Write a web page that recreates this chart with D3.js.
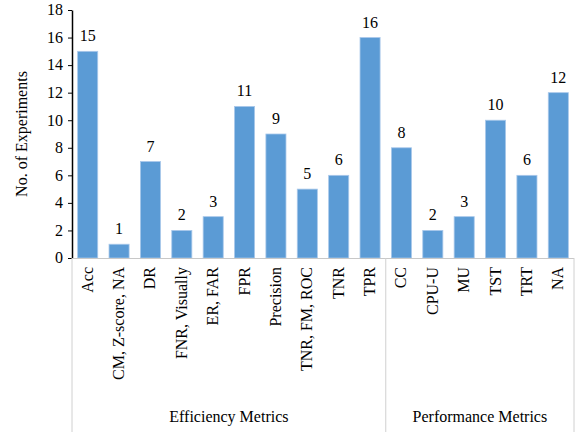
<!DOCTYPE html>
<html><head><meta charset="utf-8">
<script src="https://cdn.jsdelivr.net/npm/d3@7"></script>
</head><body>
<script>
const categories = ["Acc","CM, Z-score, NA","DR","FNR, Visually","ER, FAR","FPR","Precision","TNR, FM, ROC","TNR","TPR","CC","CPU-U","MU","TST","TRT","NA"];
const values = [15,1,7,2,3,11,9,5,6,16,8,2,3,10,6,12];
const groups = [{name:"Efficiency Metrics", start:0, end:9},{name:"Performance Metrics", start:10, end:15}];
const yTicks = [0,2,4,6,8,10,12,14,16,18];

document.body.style.margin="0";
const W=579,H=434;
const FONT='"Liberation Serif"';
const svg=d3.select("body").append("svg").attr("width",W).attr("height",H);
const x=d3.scaleBand().domain(categories).range([72,574]).paddingInner(0.36).paddingOuter(0.18);
const y=d3.scaleLinear().domain([0,18]).range([258,10]);

function txt(sel){ sel.style("font-family",FONT).attr("font-size",16); return sel; }

// bars
values.forEach((v,i)=>{
  svg.append("rect").attr("x",x(categories[i])).attr("y",y(v))
   .attr("width",x.bandwidth()).attr("height",y(0)-y(v))
   .attr("fill","#5b9bd5").attr("stroke","#a9c8ea").attr("stroke-width",0.8);
});

// y axis (drawn via d3 axis for lines)
const ya=svg.append("g").attr("transform","translate(72,0)")
 .call(d3.axisLeft(y).tickValues(yTicks).tickSize(4).tickSizeOuter(0).tickFormat(""));
ya.select(".domain").attr("stroke","#000").attr("stroke-width",1.5);
ya.selectAll(".tick line").attr("stroke","#000");
yTicks.forEach(t=>{
  txt(svg.append("text")).attr("x",63).attr("y",y(t)).attr("dy","0.33em").attr("text-anchor","end").text(t);
});

// value labels
values.forEach((v,i)=>{
  txt(svg.append("text")).attr("x",x(categories[i])+x.bandwidth()/2).attr("y",y(v)-10)
   .attr("text-anchor","middle").text(v);
});

// x axis line (gray) and group separators
const step=x.step();
const x0=72, x1=574;
svg.append("line").attr("x1",x0).attr("x2",x1).attr("y1",258.5).attr("y2",258.5).attr("stroke","#c8c8c8");
const bounds=[x0, x(categories[10])-x.paddingInner()*step/2, x1];
bounds.forEach(b=>svg.append("line").attr("x1",b).attr("x2",b).attr("y1",258).attr("y2",432).attr("stroke","#d0d0d0"));

// category labels
categories.forEach(c=>{
  txt(svg.append("text")).attr("transform",`translate(${x(c)+x.bandwidth()/2+5},267) rotate(-90)`)
   .attr("text-anchor","end").text(c);
});

// group labels
groups.forEach((g,i)=>{
  const cx=(bounds[i]+bounds[i+1])/2;
  txt(svg.append("text")).attr("x",cx).attr("y",422).attr("text-anchor","middle").text(g.name);
});

// y label
txt(svg.append("text")).attr("transform","translate(27,134) rotate(-90)").attr("text-anchor","middle")
 .text("No. of Experiments");
</script>
</body></html>
